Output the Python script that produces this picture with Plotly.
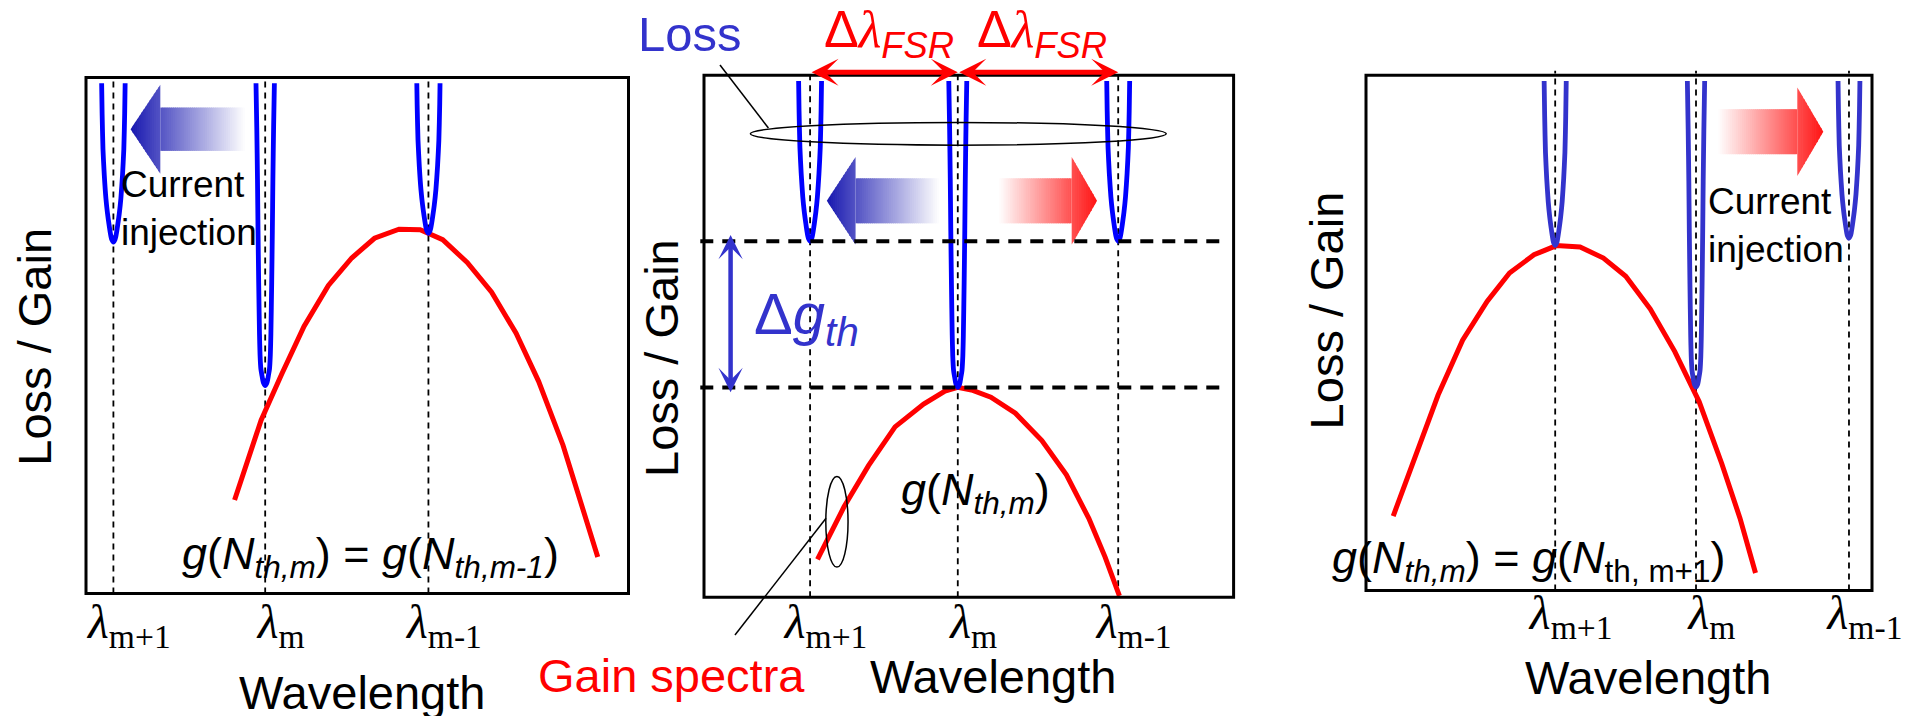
import numpy as np
import plotly.graph_objects as go

FIG_W, FIG_H = 1919, 716
SANS = "Liberation Sans, Arial, sans-serif"
SERIF = "Liberation Serif, Times New Roman, serif"
BLUE = "#0000ff"
BLUE2 = "#3333cc"
RED = "#ff0000"

# ---------------- data (arbitrary units: 0-100 across each frame) ----------------
MODE_LABELS = ["<i>λ</i><sub>m+1</sub>", "<i>λ</i><sub>m</sub>", "<i>λ</i><sub>m-1</sub>"]

# Panel 1 (left): mode positions, loss minima, gain spectrum
P1_MODE_X = [5.05, 33.03, 63.12]
P1_LOSS_MIN = [68.1, 40.3, 69.8]
P1_GAIN_X = [27.39, 32.28, 36.04, 40.18, 44.68, 48.98, 53.18, 57.7, 61.6, 65.75,
             70.27, 74.77, 79.28, 83.43, 87.93, 94.33]
P1_GAIN_Y = [18.14, 33.62, 42.48, 51.76, 59.73, 65.04, 68.86, 70.62, 70.52, 68.59,
             64.17, 58.41, 50.45, 41.14, 28.76, 7.09]

# Panel 2 (centre)
P2_MODE_X = [20.03, 47.92, 78.21]
P2_LOSS_MIN = [68.2, 40.2, 68.2]
P2_THRESHOLDS = [68.2, 40.2]
P2_GAIN_X = [21.43, 26.44, 31.06, 36.07, 41.47, 45.5, 47.9, 50.5, 54.17, 58.8,
             63.8, 68.43, 72.66, 75.74, 78.44]
P2_GAIN_Y = [7.26, 17.32, 25.2, 32.63, 37.0, 39.5, 40.2, 39.7, 38.32, 35.26,
             30.01, 23.43, 15.1, 7.68, 0.25]

# Panel 3 (right)
P3_MODE_X = [37.39, 65.22, 95.45]
P3_LOSS_MIN = [67.0, 39.45, 68.36]
P3_GAIN_X = [5.38, 9.41, 14.25, 19.09, 23.93, 28.36, 33.2, 37.63, 42.31, 46.92,
             51.34, 56.19, 61.03, 65.85, 70.3, 73.91, 76.98]
P3_GAIN_Y = [14.44, 25.08, 37.93, 48.57, 56.1, 61.62, 65.15, 66.94, 66.67, 64.53,
             61.0, 54.61, 46.36, 36.61, 24.64, 14.02, 3.38]

# loss-resonance profiles (depth above minimum -> half width)
SHALLOW_DEPTH = [0, 0.5, 1.0, 2.0, 3.3, 5.5, 8.5, 13, 18, 25, 33]
SHALLOW_HALF = [0, 0.3, 0.43, 0.6, 0.79, 1.08, 1.38, 1.68, 1.92, 2.08, 2.2]
DEEP_DEPTH = [0, 0.5, 1.0, 2.0, 3.3, 6, 10, 20, 30, 40, 50, 60]
DEEP_HALF = [0, 0.3, 0.43, 0.6, 0.8, 0.95, 1.05, 1.2, 1.32, 1.42, 1.55, 1.72]

LOSS_TOP = 98.9

# ---------------- layout geometry (pixels) ----------------
BOXES = [(86, 628.5, 77.6, 593.6), (704, 1233.6, 75.3, 597.2), (1366, 1872, 75.3, 590.4)]
LABEL_STANDOFF = [-5, -8, -10]
MX = 40


def px2paper(px, py):
    return px / FIG_W, 1 - py / FIG_H


fig = go.Figure()
layout_axes = {}
for i, (L, R, T, B) in enumerate(BOXES):
    sx = (R - L) / 100.0
    sy = (B - T) / 100.0
    suffix = "" if i == 0 else str(i + 1)
    modes = [P1_MODE_X, P2_MODE_X, P3_MODE_X][i]
    layout_axes["xaxis" + suffix] = dict(
        domain=[(L - MX) / FIG_W, (R + MX) / FIG_W], range=[-MX / sx, 100 + MX / sx],
        anchor="free", position=1 - B / FIG_H, showgrid=False, zeroline=False,
        showline=False, ticks="", tickvals=modes, ticktext=MODE_LABELS,
        tickfont=dict(family=SERIF, size=48, color="black"), ticklabelshift=16,
        ticklabelstandoff=LABEL_STANDOFF[i], fixedrange=True)
    layout_axes["yaxis" + suffix] = dict(
        domain=[0, 1], range=[(B - FIG_H) / sy, B / sy], anchor="x" + suffix,
        visible=False, fixedrange=True)

shapes = []
annotations = []


def axn(i):
    return ("x" if i == 0 else "x%d" % (i + 1)), ("y" if i == 0 else "y%d" % (i + 1))


def dip_curve(xc, ymin, ytop):
    span = ytop - ymin
    if span > 45:
        d, h = np.array(DEEP_DEPTH, float), np.array(DEEP_HALF, float)
    else:
        d, h = np.array(SHALLOW_DEPTH, float), np.array(SHALLOW_HALF, float)
    keep = d < span
    dd = np.append(d[keep], span)
    hh = np.append(h[keep], np.interp(span, d, h))
    xs = np.concatenate([xc - hh[::-1], xc + hh[1:]])
    ys = np.concatenate([ymin + dd[::-1], ymin + dd[1:]])
    return xs, ys


def add_panel(i, modes, loss_min, gx, gy, vtop, blue):
    xa, ya = axn(i)
    vx, vy = [], []
    for m in modes:
        vx += [m, m, None]
        vy += [0, vtop, None]
    fig.add_trace(go.Scatter(x=vx, y=vy, mode="lines", xaxis=xa, yaxis=ya,
                             line=dict(color="black", width=1.8, dash="6px,5px"),
                             hoverinfo="skip", showlegend=False))
    fig.add_trace(go.Scatter(x=gx, y=gy, mode="lines", xaxis=xa, yaxis=ya,
                             line=dict(color=RED, width=5), showlegend=False))
    for m, lm in zip(modes, loss_min):
        xs, ys = dip_curve(m, lm, LOSS_TOP)
        fig.add_trace(go.Scatter(x=xs, y=ys, mode="lines", xaxis=xa, yaxis=ya,
                                 line=dict(color=blue, width=4.8, shape="spline", smoothing=0.6),
                                 showlegend=False))
    shapes.append(dict(type="rect", xref=xa, yref=ya, x0=0, x1=100, y0=0, y1=100,
                       line=dict(color="black", width=3), layer="above"))


def grad_arrow(i, tip, base, tail, yc, head_h, shaft_h, rgb, n_head=14, n_shaft=40):
    xa, ya = axn(i)
    total = abs(tail - tip)
    sgn = 1 if tail > tip else -1
    head_len = abs(base - tip)

    def col(dist):
        t = min(max(dist / total, 0), 1)
        r = rgb[0] + (255 - rgb[0]) * t
        g = rgb[1] + (255 - rgb[1]) * t
        b = rgb[2] + (255 - rgb[2]) * t
        return "rgb(%d,%d,%d)" % (r, g, b)

    hd = np.linspace(0, head_len, n_head + 1)
    for a, b in zip(hd[:-1], hd[1:]):
        b2 = min(b + head_len / n_head * 0.4, head_len)
        ha, hb = head_h * a / head_len, head_h * b2 / head_len
        x1, x2 = tip + sgn * a, tip + sgn * b2
        path = "M%f,%f L%f,%f L%f,%f L%f,%f Z" % (x1, yc - ha, x2, yc - hb, x2, yc + hb, x1, yc + ha)
        shapes.append(dict(type="path", xref=xa, yref=ya, path=path, fillcolor=col((a + b) / 2),
                           line=dict(width=0), layer="below"))
    sd = np.linspace(head_len, total, n_shaft + 1)
    for a, b in zip(sd[:-1], sd[1:]):
        b2 = min(b + (total - head_len) / n_shaft * 0.4, total)
        x1, x2 = tip + sgn * a, tip + sgn * b2
        shapes.append(dict(type="rect", xref=xa, yref=ya, x0=min(x1, x2), x1=max(x1, x2),
                           y0=yc - shaft_h, y1=yc + shaft_h, fillcolor=col((a + b) / 2),
                           line=dict(width=0), layer="below"))


add_panel(0, P1_MODE_X, P1_LOSS_MIN, P1_GAIN_X, P1_GAIN_Y, 100, BLUE)
add_panel(1, P2_MODE_X, P2_LOSS_MIN, P2_GAIN_X, P2_GAIN_Y, 100.6, BLUE)
add_panel(2, P3_MODE_X, P3_LOSS_MIN, P3_GAIN_X, P3_GAIN_Y, 100.9, BLUE2)

for t in P2_THRESHOLDS:
    fig.add_trace(go.Scatter(x=[-0.7, 97.6], y=[t, t], mode="lines", xaxis="x2", yaxis="y2",
                             line=dict(color="black", width=4, dash="13px,9px"), showlegend=False))

grad_arrow(0, 8.22, 13.7, 29.3, 90.0, 8.62, 4.2, (24, 24, 176))
grad_arrow(1, 23.19, 28.62, 44.37, 75.95, 8.38, 4.31, (24, 24, 176))
grad_arrow(1, 74.21, 69.43, 55.7, 75.95, 8.38, 4.31, (255, 20, 20))
grad_arrow(2, 90.38, 85.24, 69.62, 89.05, 8.58, 4.37, (255, 20, 20))

for (a, b) in [(P2_MODE_X[0], P2_MODE_X[1]), (P2_MODE_X[1], P2_MODE_X[2])]:
    annotations.append(dict(x=b, y=100.6, ax=a, ay=100.6, xref="x2", yref="y2", axref="x2", ayref="y2",
                            text="", showarrow=True, arrowhead=3, startarrowhead=3, arrowside="end+start",
                            arrowwidth=5, arrowsize=0.9, startarrowsize=0.9, arrowcolor=RED,
                            standoff=0, startstandoff=0))
annotations.append(dict(x=5.02, y=69.4, ax=5.02, ay=39.0, xref="x2", yref="y2", axref="x2", ayref="y2",
                        text="", showarrow=True, arrowhead=3, startarrowhead=3, arrowside="end+start",
                        arrowwidth=4.5, arrowsize=0.9, startarrowsize=0.9, arrowcolor=BLUE2,
                        standoff=0, startstandoff=0))

shapes.append(dict(type="circle", xref="x2", yref="y2", x0=8.75, x1=87.29, y0=86.61, y1=90.97,
                   line=dict(color="black", width=1.5)))
shapes.append(dict(type="circle", xref="x2", yref="y2", x0=23.0, x1=27.2, y0=5.77, y1=23.13,
                   line=dict(color="black", width=1.5)))
shapes.append(dict(type="line", xref="x2", yref="y2", x0=3.02, y0=101.97, x1=12.16, y1=89.9,
                   line=dict(color="black", width=1.5)))
shapes.append(dict(type="line", xref="x2", yref="y2", x0=23.04, y0=15.12, x1=5.85, y1=-7.24,
                   line=dict(color="black", width=1.5)))


def text(t, px, py, size, color="black", xanchor="left", yanchor="middle", angle=0, family=SANS, align="left"):
    x, y = px2paper(px, py)
    annotations.append(dict(text=t, x=x, y=y, xref="paper", yref="paper", showarrow=False,
                            xanchor=xanchor, yanchor=yanchor, textangle=angle, align=align,
                            font=dict(family=family, size=size, color=color)))


LAM = '<span style="font-family:Liberation Serif"><i>λ</i></span>'

for (cx, cy) in [(33.7, 347), (661.5, 358.5), (1326, 310.4)]:
    text("Loss / Gain", cx, cy, 47, xanchor="center", angle=-90)
for (cx, cy) in [(361.7, 692), (993, 676), (1648.3, 677)]:
    text("Wavelength", cx, cy, 47, xanchor="center")

text("Current<br>injection", 119, 208, 37)
text("Current<br>injection", 1706, 225, 37)

text("<i>g</i>(<i>N</i><sub><i>th,m</i></sub>) = <i>g</i>(<i>N</i><sub><i>th,m-1</i></sub>)", 180, 556, 45)
text("<i>g</i>(<i>N</i><sub><i>th,m</i></sub>)", 899, 492, 45)
text("<i>g</i>(<i>N</i><sub><i>th,m</i></sub>) = <i>g</i>(<i>N</i><sub>th, m+1</sub>)", 1330, 560, 45)

text("Loss", 636, 34, 49, color=BLUE2)
text("Δ" + LAM + "<sub><i>FSR</i></sub>", 822, 33, 52, color=RED)
text("Δ" + LAM + "<sub><i>FSR</i></sub>", 975, 33, 52, color=RED)
text("Δ<i>g</i><sub><i>th</i></sub>", 752, 318, 58, color=BLUE2)
text("Gain spectra", 671, 675, 47, color=RED, xanchor="center")

fig.update_layout(width=FIG_W, height=FIG_H, margin=dict(l=0, r=0, t=0, b=0),
                  paper_bgcolor="white", plot_bgcolor="rgba(0,0,0,0)", showlegend=False,
                  shapes=shapes, annotations=annotations, **layout_axes)

fig.write_html("out.html")
